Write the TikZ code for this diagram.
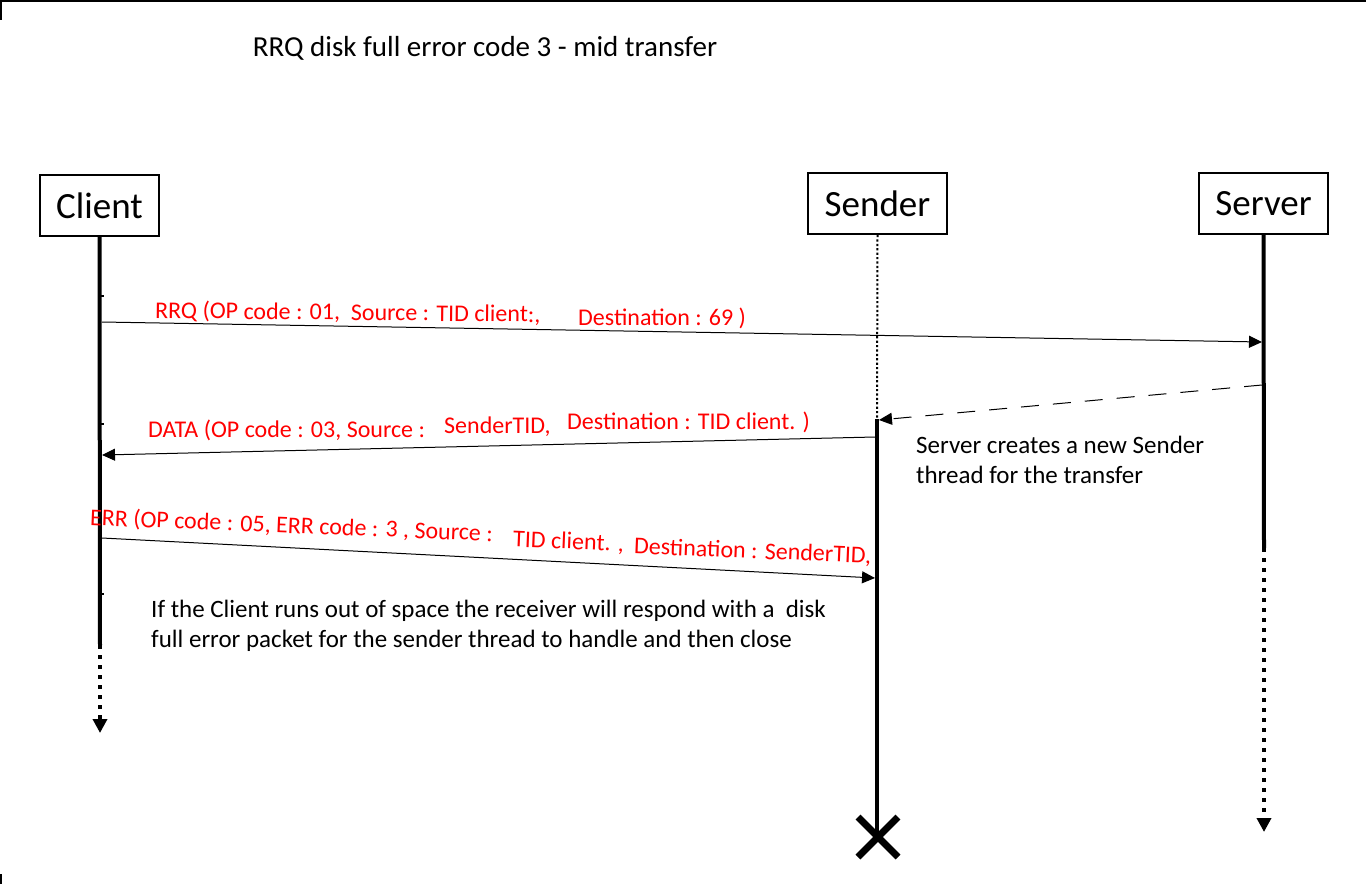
\documentclass[tikz,border=0pt]{standalone}
\usepackage{fontspec}
\setmainfont{Carlito}
\usetikzlibrary{arrows.meta}
\definecolor{msgred}{RGB}{255,0,0}
\tikzset{
  actor/.style={draw=black, line width=2pt, minimum width=#1, minimum height=61pt, inner sep=0pt, font=\fontsize{37}{44}\selectfont},
  life/.style={line width=4pt},
  lifedot/.style={line width=4pt, dash pattern=on 4pt off 6pt},
  senderdot/.style={line width=2pt, dash pattern=on 2.2pt off 2.2pt},
  msg/.style={line width=1pt, -{Triangle[length=13pt,width=12pt]}},
  reply/.style={line width=1pt, dash pattern=on 18pt off 14pt, -{Triangle[length=13pt,width=12pt]}},
  lbl/.style={text=msgred, inner sep=0pt, font=\fontsize{24}{28}\selectfont},
  note/.style={inner sep=0pt, align=left, font=\fontsize{25}{30}\selectfont},
  tick/.style={line width=1.2pt},
}
\begin{document}
\begin{tikzpicture}[x=1pt,y=-1pt]
\useasboundingbox (0,0) rectangle (1366,884);
\fill[white] (0,0) rectangle (1366,884);
% frame fragments
\draw[line width=2pt] (1,0) -- (1,20);
\draw[line width=2pt] (1,874) -- (1,884);
\draw[line width=1.5pt] (0,0.75) -- (1366,0.75);

% title
\node[inner sep=0pt, anchor=base, font=\fontsize{29}{34}\selectfont] (title) at (485,56) {RRQ disk full error code 3 - mid transfer};

% actors
\node[actor=119pt] (client) at (99.5,205.5) {Client};
\node[actor=139pt] (sender) at (877.5,203.5) {Sender};
\node[actor=129pt] (server) at (1263.5,203.5) {Server};

% lifeline coordinates
\coordinate (cA) at (100,645);
\coordinate (cB) at (100,733);
\coordinate (sA) at (877,419);
\coordinate (sB) at (877,837);
\coordinate (vA) at (1264,548);
\coordinate (vB) at (1264,832);

\draw[life] (client.south) -- (cA);
\draw[lifedot, -{Triangle[length=14pt,width=14pt]}] (cA) -- (cB);
\draw[senderdot] (sender.south) -- (sA);
\draw[life] (sA) -- (sB);
\draw[life] (server.south) -- (vA);
\draw[lifedot, -{Triangle[length=14pt,width=14pt]}] (vA) -- (vB);

% destroy mark
\coordinate (x1) at (858,817);
\coordinate (x2) at (898,857);
\coordinate (x3) at (858,857);
\coordinate (x4) at (898,817);
\draw[line width=7pt] (x1) -- (x2);
\draw[line width=7pt] (x3) -- (x4);

% small ticks on client lifeline
\coordinate (t1a) at (101,296); \coordinate (t1b) at (104,296);
\coordinate (t2a) at (101,424); \coordinate (t2b) at (104,424);
\coordinate (t3a) at (101,594); \coordinate (t3b) at (104,594);
\draw[tick] (t1a) -- (t1b);
\draw[tick] (t2a) -- (t2b);
\draw[tick] (t3a) -- (t3b);

% messages
\coordinate (m1s) at (102,322);
\coordinate (m1e) at (1262,342);
\draw[msg] (m1s) -- (m1e);

\coordinate (m2s) at (1262,385);
\coordinate (m2e) at (879,420);
\draw[reply] (m2s) -- (m2e);

\coordinate (m3s) at (875,437);
\coordinate (m3e) at (102,455);
\draw[msg] (m3s) -- (m3e);

\coordinate (m4s) at (102,538);
\coordinate (m4e) at (875,578);
\draw[msg] (m4s) -- (m4e);

% labels
\node[lbl, anchor=west, rotate=-0.6] (l1a) at (155,311) {RRQ (OP code : 01,\ \ Source : TID client:,};
\node[lbl, anchor=west] (l1b) at (578,318) {Destination : 69 )};

\node[lbl, anchor=west] (l2a) at (148,430) {DATA (OP code : 03, Source :};
\node[lbl, anchor=west] (l2b) at (444,427) {SenderTID,};
\node[lbl, anchor=west] (l2c) at (567,422) {Destination : TID client. )};

\node[lbl, anchor=west, rotate=-2.3] (l3a) at (90,518) {ERR (OP code : 05, ERR code : 3 , Source :};
\node[lbl, anchor=west, rotate=-2.3] (l3b) at (513,540) {TID client. ,};
\node[lbl, anchor=west, rotate=-2.3] (l3c) at (634,547) {Destination : SenderTID,};

% notes
\node[note, anchor=north west] (n1) at (916,436) {Server creates a new Sender\\thread for the transfer};
\node[note, anchor=north west] (n2) at (151,600) {If the Client runs out of space the receiver will respond with a\ \ disk\\full error packet for the sender thread to handle and then close};
\end{tikzpicture}
\end{document}
